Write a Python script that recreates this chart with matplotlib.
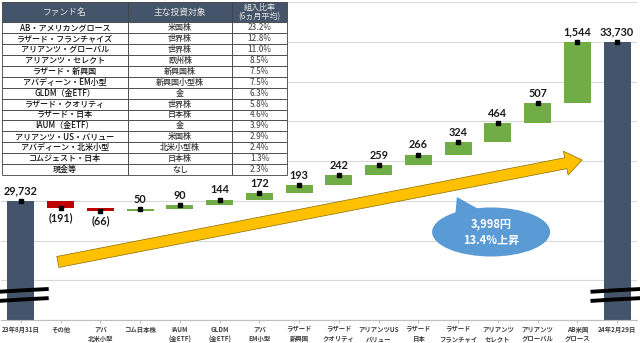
import matplotlib
matplotlib.use('Agg')
import matplotlib.pyplot as plt
from matplotlib.patches import Ellipse, Polygon, FancyArrowPatch
import numpy as np

plt.rcParams['font.family'] = ['Noto Sans CJK JP', 'DejaVu Sans']

# waterfall data
categories = ['23年8月31日', 'その他', 'アバ\n北米小型', 'コム日本株', 'IAUM\n(金ETF)',
              'GLDM\n(金ETF)', 'アバ\nEM小型', 'ラザード\n新興国', 'ラザード\nクオリティ',
              'アリアンツUS\nバリュー', 'ラザード\n日本', 'ラザード\nフランチャイ',
              'アリアンツ\nセレクト', 'アリアンツ\nグローバル', 'AB米国\nグロース', '24年2月29日']
start_value = 29732
changes = [-191, -66, 50, 90, 144, 172, 193, 242, 259, 266, 324, 464, 507, 1544]
end_value = 33730

# table data
fund_names = ['AB・アメリカングロース', 'ラザード・フランチャイズ', 'アリアンツ・グローバル',
              'アリアンツ・セレクト', 'ラザード・新興国', 'アバディーン・EM小型',
              'GLDM（金ETF）', 'ラザード・クオリティ', 'ラザード・日本', 'IAUM（金ETF）',
              'アリアンツ・US・バリュー', 'アバディーン・北米小型', 'コムジェスト・日本', '現金等']
targets = ['米国株', '世界株', '世界株', '欧州株', '新興国株', '新興国小型株', '金', '世界株',
           '日本株', '金', '米国株', '北米小型株', '日本株', 'なし']
weights = ['23.2%', '12.8%', '11.0%', '8.5%', '7.5%', '7.5%', '6.3%', '5.8%', '4.6%',
           '3.9%', '2.9%', '2.4%', '1.3%', '2.3%']
headers = ['ファンド名', '主な投資対象', '組入比率\n(6ヵ月平均)']

y_min, y_max = 26730, 34730
NAVY = '#44546a'
GREEN = '#70ad47'
RED = '#c00000'

fig = plt.figure(figsize=(6.4, 3.43), dpi=100)
ax = fig.add_axes([1 / 640, 23 / 343, 636 / 640, 318 / 343])

n = len(categories)
x = np.arange(n)
ax.set_xlim(-0.5, n - 0.5)
ax.set_ylim(y_min, y_max)
ax.set_yticks(np.arange(y_min, y_max + 1, 1000))
ax.yaxis.grid(True, color='#d9d9d9', lw=0.8)
ax.set_axisbelow(True)
ax.tick_params(axis='y', left=False, labelleft=False)
for s in ['top', 'right', 'left']:
    ax.spines[s].set_visible(False)
ax.spines['bottom'].set_color('#bfbfbf')

lab_font = dict(family=['Lato', 'DejaVu Sans'], fontweight='bold', fontsize=7.8, color='#1a1a1a')
bw = 0.68

# running totals
cum_vals = [start_value]
for v in changes:
    cum_vals.append(cum_vals[-1] + v)

ax.bar(0, start_value - y_min, bottom=y_min, width=bw, color=NAVY, zorder=2)
ax.bar(n - 1, end_value - y_min, bottom=y_min, width=bw, color=NAVY, zorder=2)
ax.plot(0, start_value, 's', color='black', ms=2.2, zorder=4)
ax.plot(n - 1, end_value, 's', color='black', ms=2.2, zorder=4)
ax.annotate('{:,}'.format(start_value), (0, start_value), xytext=(0, 3),
            textcoords='offset points', ha='center', va='bottom', **lab_font)
ax.annotate('{:,}'.format(end_value), (n - 1, end_value), xytext=(0, 3),
            textcoords='offset points', ha='center', va='bottom', **lab_font)

for i, v in enumerate(changes):
    xi = i + 1
    before = cum_vals[i]
    after = cum_vals[i + 1]
    col = GREEN if v > 0 else RED
    ax.bar(xi, abs(v), bottom=min(before, after), width=bw, color=col, zorder=2)
    ax.plot(xi, after, 's', color='black', ms=2.2, zorder=4)
    if v > 0:
        ax.annotate('{:,}'.format(v), (xi, after), xytext=(0, 3),
                    textcoords='offset points', ha='center', va='bottom', **lab_font)
    else:
        ax.annotate('({:,})'.format(-v), (xi, min(before, after)), xytext=(0, -3),
                    textcoords='offset points', ha='center', va='top', **lab_font)

ax.set_xticks(x)
ax.set_xticklabels(categories, fontsize=4.6, color='#404040', fontweight='bold', linespacing=1.45)
ax.tick_params(axis='x', length=2, color='#bfbfbf', pad=2)

# axis break marks
for xs in ([-0.56, 0.1, 0.7], [14.33, 15.0, 15.6]):
    for yb in (27470, 27240):
        ax.plot(xs, [yb - 30, yb + 10, yb + 40], color='black', lw=2.8,
                solid_capstyle='butt', clip_on=False, zorder=5)

# big arrow
arrow = FancyArrowPatch((0.93, 28190), (14.12, 30755),
                        arrowstyle='simple,head_length=1.2,head_width=1.75,tail_width=0.8',
                        mutation_scale=10, shrinkA=0, shrinkB=0,
                        facecolor='#ffc000', edgecolor='#8a6d00', lw=0.5, zorder=3)
ax.add_patch(arrow)

# callout
ax.add_patch(Polygon([(10.97, 29824), (10.92, 29300), (11.55, 29500)], closed=True,
                     facecolor='#5b9bd5', edgecolor='none', zorder=5))
ax.add_patch(Ellipse((11.83, 28944), 2.97, 1233, facecolor='#5b9bd5', edgecolor='none', zorder=5))
ax.text(11.83, 28944, '3,998円\n13.4%上昇', ha='center', va='center', color='white',
        fontsize=8, fontweight='bold', linespacing=1.4, zorder=6)

# fund table
tax = fig.add_axes([2 / 640, (343 - 175) / 343, 285 / 640, 173 / 343])
tax.axis('off')
rows = [[a, b, c] for a, b, c in zip(fund_names, targets, weights)]
tbl = tax.table(cellText=rows, colLabels=headers, cellLoc='center', colLoc='center',
                colWidths=[126 / 285, 104 / 285, 55 / 285], bbox=[0, 0, 1, 1])
tbl.auto_set_font_size(False)
tbl.set_fontsize(5.8)
for (r, c), cell in tbl.get_celld().items():
    cell.set_edgecolor('#404040')
    cell.set_linewidth(0.6)
    cell.PAD = 0.03
    if r == 0:
        cell.set_facecolor(NAVY)
        cell.set_height(cell.get_height() * 1.85)
        cell.get_text().set_color('#e6e6e6')
        cell.get_text().set_fontsize(6.3 if c < 2 else 5.8)
        cell.get_text().set_linespacing(1.1)
    else:
        cell.set_facecolor('white')
        cell.get_text().set_fontweight('medium')
        if c == 2:
            cell._loc = 'right'
            cell.get_text().set_color('#555555')
        elif c == 1:
            cell.get_text().set_color('#333333')
        else:
            cell.get_text().set_color('#111111')

fig.savefig('out.png', dpi=100)
